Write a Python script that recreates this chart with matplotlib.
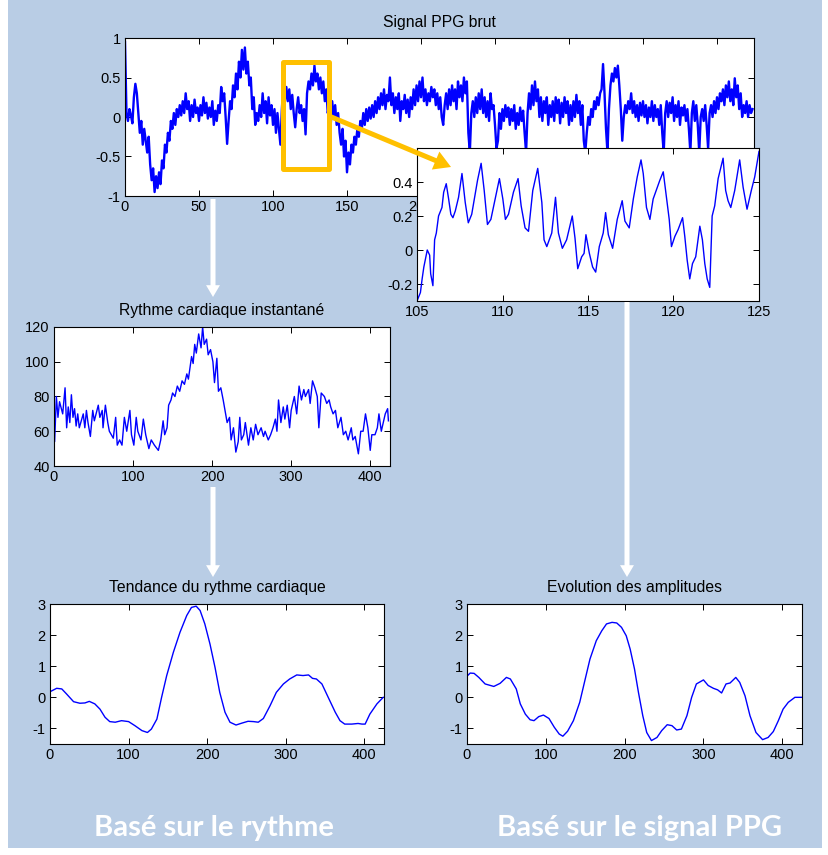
import numpy as np
import matplotlib.pyplot as plt
from matplotlib.patches import Rectangle, FancyArrowPatch

plt.rcParams['font.family'] = ['Liberation Sans', 'DejaVu Sans']
plt.rcParams['axes.unicode_minus'] = False

# ---- data ----
# raw PPG signal, one value per time unit from 0 to 424
ppg_raw = [
    0.95, 0.05, -0.05, 0.10, 0.02, -0.08, 0.25, 0.42, 0.30, 0.05,
    -0.20, -0.05, -0.35, -0.15, -0.30, -0.45, -0.25, -0.60, -0.80, -0.65,
    -0.95, -0.75, -0.90, -0.70, -0.85, -0.55, -0.65, -0.35, -0.45, -0.20,
    -0.30, -0.05, -0.15, 0.05, -0.10, 0.10, 0.00, 0.15, 0.02, 0.20,
    0.05, 0.30, 0.10, 0.20, -0.05, 0.15, 0.00, 0.22, 0.05, 0.12,
    -0.05, 0.15, 0.02, 0.25, 0.05, 0.18, -0.02, 0.12, 0.00, 0.20,
    -0.10, 0.08, -0.05, 0.15, 0.05, 0.38, 0.20, 0.30, 0.00, -0.34,
    -0.05, 0.20, 0.10, 0.40, 0.25, 0.55, 0.35, 0.70, 0.50, 0.85,
    0.60, 0.88, 0.55, 0.70, 0.40, 0.50, 0.10, 0.25, -0.10, 0.05,
    -0.05, 0.15, 0.00, 0.30, 0.05, 0.20, -0.08, 0.25, 0.02, 0.15,
    -0.10, 0.10, -0.20, 0.05, -0.15, -0.35, 0.10, 0.45, 0.20, 0.38,
    0.20, 0.35, 0.10, 0.28, 0.05, -0.13, 0.10, 0.25, 0.05, 0.15,
    -0.05, 0.10, -0.22, 0.30, 0.45, 0.35, 0.55, 0.40, 0.65, 0.45,
    0.55, 0.35, 0.50, 0.30, 0.45, 0.20, 0.35, 0.05, 0.15, -0.10,
    0.20, 0.00, 0.15, -0.10, 0.05, -0.20, -0.35, -0.15, -0.50, -0.30,
    -0.70, -0.45, -0.60, -0.35, -0.45, -0.25, -0.35, -0.15, -0.25, -0.05,
    -0.15, 0.05, -0.10, 0.10, -0.05, 0.12, -0.02, 0.15, 0.00, 0.20,
    0.05, 0.25, 0.10, 0.30, 0.15, 0.35, 0.10, 0.28, 0.20, 0.50,
    0.15, 0.30, 0.05, 0.25, 0.10, 0.30, -0.05, 0.20, 0.10, 0.28,
    0.05, 0.22, 0.00, 0.25, 0.10, 0.35, 0.15, 0.40, 0.20, 0.45,
    0.25, 0.50, 0.20, 0.35, 0.15, 0.30, 0.20, 0.38, 0.25, 0.35,
    0.15, 0.30, 0.10, 0.25, 0.00, -0.10, 0.15, 0.30, 0.10, 0.35,
    0.15, 0.40, 0.20, 0.35, 0.10, 0.45, 0.25, 0.40, 0.20, 0.50,
    0.30, 0.45, -0.20, -0.45, 0.05, 0.20, 0.00, 0.25, 0.05, 0.30,
    0.10, 0.35, 0.05, 0.25, 0.00, 0.20, -0.05, 0.30, 0.10, 0.15,
    -0.10, -0.40, -0.30, 0.05, -0.15, 0.10, -0.05, 0.15, 0.00, 0.12,
    -0.10, 0.10, -0.05, 0.15, -0.15, 0.05, -0.10, 0.12, -0.05, 0.08,
    -0.20, -0.45, 0.05, 0.30, 0.10, 0.40, 0.15, 0.45, 0.20, 0.35,
    0.00, 0.25, -0.05, 0.20, 0.05, 0.25, -0.10, 0.15, 0.00, 0.20,
    -0.05, 0.25, 0.05, 0.22, -0.08, 0.18, 0.00, 0.25, 0.05, 0.20,
    -0.10, 0.15, -0.05, 0.20, 0.00, 0.28, 0.05, 0.20, -0.10, 0.15,
    -0.30, -0.45, -0.20, 0.00, -0.10, 0.10, 0.00, 0.20, 0.10, 0.25,
    0.15, 0.30, 0.35, 0.67, 0.30, -0.15, -0.45, 0.10, 0.40, 0.55,
    0.45, 0.62, 0.50, 0.65, 0.40, 0.10, -0.30, 0.00, 0.15, 0.05,
    0.20, 0.10, 0.30, 0.05, 0.20, 0.00, 0.15, -0.05, 0.18, 0.02,
    0.20, 0.00, 0.15, -0.08, 0.12, 0.00, 0.20, -0.05, 0.15, 0.00,
    0.10, -0.10, 0.15, -0.20, -0.45, 0.05, 0.20, 0.00, 0.18, 0.05,
    0.25, -0.05, 0.15, 0.00, 0.20, -0.10, 0.12, 0.02, 0.15, -0.05,
    0.10, -0.15, -0.45, 0.05, 0.20, -0.05, 0.15, -0.10, -0.45, 0.00,
    0.10, -0.05, 0.15, -0.10, -0.40, 0.05, 0.15, 0.00, 0.20, 0.05,
    0.25, 0.10, 0.30, 0.20, 0.35, 0.15, 0.40, 0.25, 0.45, 0.20,
    0.35, 0.15, 0.49, 0.25, 0.40, 0.10, 0.30, 0.00, 0.15, 0.05,
    0.20, 0.00, 0.15, 0.05, 0.10,
]

# zoomed detail 105 s .. 125 s
zoom_t = [105.0, 105.2, 105.3, 105.4, 105.6, 105.74, 105.8, 105.93, 106.03, 106.13,
          106.26, 106.46, 106.56, 106.71, 106.85, 106.98, 107.1, 107.24, 107.43, 107.63,
          107.82, 108.0, 108.2, 108.54, 108.75, 108.93, 109.12, 109.32, 109.57, 109.82,
          110.02, 110.17, 110.35, 110.64, 110.91, 111.09, 111.32, 111.52, 111.77, 112.06,
          112.3, 112.43, 112.59, 112.88, 113.1, 113.27, 113.5, 113.75, 114.08, 114.24,
          114.4, 114.63, 114.77, 114.88, 115.08, 115.27, 115.45, 115.66, 115.89, 116.03,
          116.19, 116.44, 116.71, 117.0, 117.16, 117.41, 117.65, 117.88, 118.1, 118.23,
          118.42, 118.62, 118.81, 119.2, 119.4, 119.55, 119.75, 119.88, 120.08, 120.27,
          120.53, 120.66, 120.8, 120.95, 121.11, 121.3, 121.54, 121.69, 121.83, 121.97,
          122.12, 122.26, 122.41, 122.61, 122.9, 123.05, 123.19, 123.35, 123.58, 123.87,
          124.07, 124.3, 124.55, 124.75, 125.0]
zoom_v = [-0.30, -0.25, -0.17, -0.10, 0.00, -0.03, -0.14, -0.21, 0.06, 0.10,
          0.20, 0.25, 0.34, 0.39, 0.30, 0.21, 0.19, 0.23, 0.31, 0.45,
          0.28, 0.16, 0.21, 0.41, 0.51, 0.35, 0.15, 0.18, 0.30, 0.42,
          0.30, 0.18, 0.21, 0.34, 0.42, 0.26, 0.13, 0.11, 0.35, 0.48,
          0.28, 0.06, 0.02, 0.10, 0.31, 0.10, 0.01, 0.06, 0.20, 0.07,
          -0.11, -0.04, -0.02, 0.09, -0.02, -0.10, -0.13, 0.02, 0.10, 0.22,
          0.09, 0.01, 0.18, 0.29, 0.17, 0.13, 0.30, 0.43, 0.53, 0.45,
          0.25, 0.18, 0.30, 0.41, 0.46, 0.34, 0.18, 0.02, 0.08, 0.12,
          0.19, 0.08, -0.06, -0.17, -0.08, -0.04, 0.14, 0.06, -0.08, -0.17,
          -0.22, 0.20, 0.26, 0.42, 0.54, 0.35, 0.29, 0.25, 0.35, 0.53,
          0.37, 0.24, 0.35, 0.43, 0.58]

# instantaneous heart rate (bpm)
hr_t = [0, 0.8, 3, 5, 7, 11, 14, 16, 18, 20, 22, 24, 26, 28, 30, 32, 37, 39, 41, 43,
        46, 49, 51, 56, 58, 61, 62, 65, 68, 70, 75, 78, 80, 83, 86, 89, 92, 96, 98, 101,
        104, 106, 110, 113, 116, 120, 123, 127, 132, 135, 138, 140, 143, 145, 148, 150, 153, 156, 159, 162,
        165, 168, 170, 174, 176, 178, 180, 183, 186, 188, 190, 193, 195, 198, 201, 203, 206, 208, 211, 214,
        217, 219, 222, 224, 227, 230, 233, 235, 237, 240, 242, 246, 249, 252, 255, 258, 262, 265, 267, 271,
        274, 277, 280, 282, 284, 287, 290, 292, 295, 298, 300, 304, 307, 310, 313, 316, 318, 322, 324, 327,
        330, 333, 335, 338, 342, 345, 348, 350, 353, 356, 359, 363, 366, 369, 372, 376, 378, 381, 385, 388,
        391, 394, 397, 400, 402, 406, 409, 411, 414, 419, 422, 423]
hr_bpm = [66, 54, 80, 68, 77, 70, 85, 62, 74, 65, 81, 68, 73, 63, 70, 62, 70, 62, 72, 65,
          57, 72, 66, 75, 68, 72, 62, 75, 65, 60, 56, 68, 52, 55, 52, 68, 60, 72, 58, 52,
          68, 60, 55, 67, 58, 50, 55, 52, 49, 55, 66, 58, 62, 75, 78, 82, 80, 86, 83, 89,
          87, 93, 90, 103, 99, 110, 105, 116, 108, 120, 110, 113, 104, 107, 100, 88, 102, 83, 85, 78,
          70, 65, 68, 55, 62, 48, 54, 68, 55, 58, 65, 52, 62, 55, 64, 58, 62, 57, 60, 55,
          58, 62, 67, 60, 78, 65, 74, 67, 75, 62, 72, 80, 70, 86, 78, 84, 80, 84, 76, 89,
          85, 80, 62, 82, 80, 76, 78, 74, 70, 72, 62, 68, 58, 60, 55, 62, 55, 57, 47, 60,
          60, 70, 62, 49, 58, 58, 62, 70, 60, 70, 73, 66]

# heart-rate trend
trend_t = [0, 8.5, 15, 21, 30, 38, 44.5, 50, 57, 63.6, 70, 76, 83, 91, 100, 108, 117, 124, 129, 136,
           142, 148.5, 157, 165.4, 174, 180, 186, 191, 197, 203.6, 210, 216, 222.7, 229, 236.7, 244, 252, 259, 265, 271.5,
           280, 288, 297, 305, 314, 322, 329, 334, 339, 346, 354, 363, 369, 375, 384, 392, 397, 401, 407, 416, 424]
trend_v = [0.18, 0.29, 0.27, 0.11, -0.14, -0.19, -0.18, -0.13, -0.21, -0.38, -0.64, -0.78, -0.80, -0.75, -0.78, -0.91, -1.07, -1.13, -1.02, -0.70,
           0.00, 0.70, 1.45, 2.09, 2.63, 2.89, 2.93, 2.79, 2.36, 1.71, 0.96, 0.16, -0.48, -0.80, -0.89, -0.83, -0.77, -0.78, -0.80, -0.68,
           -0.27, 0.16, 0.43, 0.59, 0.72, 0.70, 0.72, 0.61, 0.59, 0.43, 0.00, -0.48, -0.75, -0.86, -0.86, -0.84, -0.86, -0.86, -0.54, -0.21, 0.00]

# amplitude evolution
evol_t = [0, 4, 9, 15, 23, 34, 42, 50, 55, 62.5, 67.6, 74, 80, 85, 91, 97, 104, 110.7, 117, 121.6,
          127.6, 135, 143, 150, 156, 164, 171, 177, 184, 190, 196, 202, 207, 212.5, 217.5, 223, 228, 234, 241, 247,
          254, 260, 266, 272, 279, 285, 291, 300, 306, 312.6, 318, 323, 328.6, 333.7, 341, 346, 352.7, 359, 366.6, 375,
          382, 388.6, 395, 401, 407.6, 416, 425]
evol_v = [0.68, 0.78, 0.77, 0.64, 0.43, 0.35, 0.45, 0.64, 0.59, 0.27, -0.21, -0.54, -0.72, -0.75, -0.62, -0.57, -0.68, -0.96, -1.18, -1.25,
          -1.09, -0.75, -0.16, 0.59, 1.23, 1.82, 2.14, 2.36, 2.41, 2.39, 2.25, 1.98, 1.55, 0.91, 0.16, -0.59, -1.13, -1.39, -1.29, -1.07,
          -0.88, -0.91, -1.05, -1.02, -0.59, 0.00, 0.43, 0.56, 0.38, 0.29, 0.24, 0.14, 0.43, 0.46, 0.64, 0.48, 0.05, -0.59, -1.13, -1.36,
          -1.29, -1.10, -0.75, -0.38, -0.16, 0.00, 0.00]

raw_yticks = [-1, -0.5, 0, 0.5, 1]
raw_ylabels = ['-1', '-0.5', '0', '0.5', '1']
zoom_yticks = [-0.2, 0, 0.2, 0.4]
zoom_ylabels = ['-0.2', '0', '0.2', '0.4']
zoom_xticks = [105, 110, 115, 120, 125]
long_xticks = [0, 100, 200, 300, 400]
raw_xticks = [0, 50, 100, 150, 200, 250, 300, 350, 400]
hr_yticks = [40, 60, 80, 100, 120]
smooth_yticks = [-1, 0, 1, 2, 3]

# ---- layout ----
W, H = 829, 855
BG = '#b9cde5'
BLUE = '#0000ff'
GOLD = '#ffc000'
TICK = 10.5
TITLE = 11.3


def box(left, top, right, bottom):
    return [left / W, 1 - bottom / H, (right - left) / W, (bottom - top) / H]


def inch(x, y):
    return (x / 100, (H - y) / 100)


def style(ax):
    ax.tick_params(direction='in', top=True, right=True, length=4, width=0.7,
                   labelsize=TICK, pad=3)
    for s in ax.spines.values():
        s.set_linewidth(0.8)


fig = plt.figure(figsize=(W / 100, H / 100), dpi=100)
fig.patches.append(Rectangle((8 / W, 7 / H), 814 / W, 848 / H, transform=fig.transFigure,
                             facecolor=BG, edgecolor='none', zorder=-5))

ax_raw = fig.add_axes(box(125, 38, 754, 196))
t_raw = np.arange(len(ppg_raw))
ax_raw.plot(t_raw, ppg_raw, color=BLUE, lw=1.7)
ax_raw.set_xlim(0, 425)
ax_raw.set_ylim(-1, 1)
ax_raw.set_xticks(raw_xticks)
ax_raw.set_yticks(raw_yticks)
ax_raw.set_yticklabels(raw_ylabels)
ax_raw.set_title('Signal PPG brut', fontsize=TITLE, pad=8)
style(ax_raw)

ax_zoom = fig.add_axes(box(417, 148, 759, 301), zorder=3)
ax_zoom.plot(zoom_t, zoom_v, color=BLUE, lw=1.0)
ax_zoom.set_xlim(105, 125)
ax_zoom.set_ylim(-0.3, 0.6)
ax_zoom.set_xticks(zoom_xticks)
ax_zoom.set_yticks(zoom_yticks)
ax_zoom.set_yticklabels(zoom_ylabels)
style(ax_zoom)

ax_hr = fig.add_axes(box(54, 327, 390, 466))
ax_hr.plot(hr_t, hr_bpm, color=BLUE, lw=1.0)
ax_hr.set_xlim(0, 425)
ax_hr.set_ylim(40, 120)
ax_hr.set_xticks(long_xticks)
ax_hr.set_yticks(hr_yticks)
ax_hr.set_title('Rythme cardiaque instantané', fontsize=TITLE, pad=8.5)
style(ax_hr)

ax_tr = fig.add_axes(box(50, 604, 384, 744))
ax_tr.plot(trend_t, trend_v, color=BLUE, lw=1.0)
ax_tr.set_xlim(0, 425)
ax_tr.set_ylim(-1.5, 3)
ax_tr.set_xticks(long_xticks)
ax_tr.set_yticks(smooth_yticks)
ax_tr.set_title('Tendance du rythme cardiaque', fontsize=TITLE, pad=8.5)
style(ax_tr)

ax_ev = fig.add_axes(box(467, 604, 802, 744))
ax_ev.plot(evol_t, evol_v, color=BLUE, lw=1.0)
ax_ev.set_xlim(0, 425)
ax_ev.set_ylim(-1.5, 3)
ax_ev.set_xticks(long_xticks)
ax_ev.set_yticks(smooth_yticks)
ax_ev.set_title('Evolution des amplitudes', fontsize=TITLE, pad=8.5)
style(ax_ev)

# yellow selection box and arrow towards the zoom
fig.add_artist(Rectangle(inch(283, 169), 46 / 100, 107 / 100, transform=fig.dpi_scale_trans,
                         fill=False, edgecolor=GOLD, lw=3.6, joinstyle='round', zorder=6))
fig.add_artist(FancyArrowPatch(inch(329, 116), inch(451, 167), transform=fig.dpi_scale_trans,
                               arrowstyle='simple,head_length=12,head_width=14,tail_width=3.6',
                               mutation_scale=1, shrinkA=0, shrinkB=0,
                               facecolor=GOLD, edgecolor='none', zorder=7))

# white flow arrows
for (x0, y0, x1, y1) in [(213, 199, 213, 297), (213, 487, 213, 577), (627, 302, 627, 577)]:
    fig.add_artist(FancyArrowPatch(inch(x0, y0), inch(x1, y1), transform=fig.dpi_scale_trans,
                                   arrowstyle='simple,head_length=8.5,head_width=10,tail_width=3.6',
                                   mutation_scale=1, shrinkA=0, shrinkB=0,
                                   facecolor='white', edgecolor='none', zorder=7))

fig.text(214 / W, 1 - 836 / H, 'Basé sur le rythme', ha='center', va='baseline',
         color='white', fontsize=21, fontweight='bold', family='Lato')
fig.text(640 / W, 1 - 836 / H, 'Basé sur le signal PPG', ha='center', va='baseline',
         color='white', fontsize=21, fontweight='bold', family='Lato')

fig.savefig('out.png', dpi=100)
